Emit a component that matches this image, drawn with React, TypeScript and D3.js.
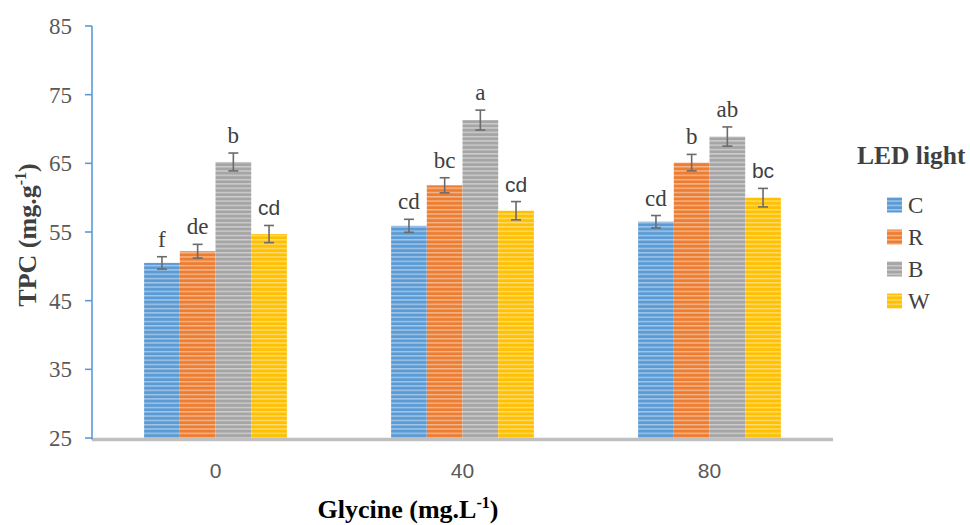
import React from "react";
import * as d3 from "d3";

const categories = ["0", "40", "80"];
const seriesNames = ["C", "R", "B", "W"];
const seriesColors = ["#5b9bd5", "#ed7d31", "#a5a5a5", "#ffc000"];
const valuesC = [50.5, 55.9, 56.5];
const valuesR = [52.2, 61.8, 65.1];
const valuesB = [65.2, 71.3, 68.9];
const valuesW = [54.7, 58.1, 60.0];
const errC = [0.9, 0.95, 0.9];
const errR = [1.0, 1.1, 1.2];
const errB = [1.3, 1.45, 1.4];
const errW = [1.25, 1.33, 1.35];
const lettersC = ["f", "cd", "cd"];
const lettersR = ["de", "bc", "b"];
const lettersB = ["b", "a", "ab"];
const lettersW = ["cd", "cd", "bc"];
const yTicks = [25, 35, 45, 55, 65, 75, 85];

const W = 970;
const H = 525;
const serif = "'Liberation Serif', 'Times New Roman', serif";
const sans = "'Liberation Sans', Arial, sans-serif";

function lighten(c: string, k: number) {
  const col = d3.color(c)!.rgb();
  return d3.rgb(
    col.r + (255 - col.r) * k,
    col.g + (255 - col.g) * k,
    col.b + (255 - col.b) * k
  ).toString();
}

export default function App() {
  const values = [valuesC, valuesR, valuesB, valuesW];
  const errs = [errC, errR, errB, errW];
  const letters = [lettersC, lettersR, lettersB, lettersW];

  const x0 = d3.scaleBand<string>().domain(categories).range([92, 833]).paddingInner(0).paddingOuter(0);
  const x1 = d3.scaleBand<string>().domain(seriesNames).range([0, x0.bandwidth()]).paddingOuter(1.46).paddingInner(0);
  const y = d3.scaleLinear().domain([25, 85]).range([438, 26]);

  return (
    <svg width={W} height={H} style={{ position: "absolute", left: 0, top: 0, background: "#fff" }}>
      <defs>
        {seriesNames.map((s, i) => (
          <pattern key={s} id={"pat" + s} patternUnits="userSpaceOnUse" width={8} height={4.3}>
            <rect x={0} y={0} width={8} height={4.3} fill={seriesColors[i]} />
            <rect x={0} y={2.6} width={8} height={1.4} fill={lighten(seriesColors[i], 0.45)} />
          </pattern>
        ))}
      </defs>

      {/* bars */}
      {categories.map((cat, ci) => (
        <g key={cat} transform={`translate(${x0(cat)},0)`}>
          {seriesNames.map((s, si) => {
            const v = values[si][ci];
            const e = errs[si][ci];
            const bx = x1(s)!;
            const bw = x1.bandwidth();
            const cx = bx + bw / 2;
            return (
              <g key={s}>
                <rect x={bx} y={y(v)} width={bw} height={y(25) - y(v)} fill={`url(#pat${s})`} />
                <line x1={cx} x2={cx} y1={y(v + e)} y2={y(v - e)} stroke="#6b6b6b" strokeWidth={1.6} />
                <line x1={cx - 5} x2={cx + 5} y1={y(v + e)} y2={y(v + e)} stroke="#6b6b6b" strokeWidth={1.6} />
                <line x1={cx - 5} x2={cx + 5} y1={y(v - e)} y2={y(v - e)} stroke="#6b6b6b" strokeWidth={1.6} />
                <text
                  x={cx}
                  y={y(v + e) - 10}
                  textAnchor="middle"
                  fontFamily={si === 3 ? sans : serif}
                  fontSize={si === 3 ? 21 : 23}
                  fill="#404040"
                >
                  {letters[si][ci]}
                </text>
              </g>
            );
          })}
        </g>
      ))}

      {/* x baseline */}
      <line x1={92} x2={833} y1={439.5} y2={439.5} stroke="#bfbfbf" strokeWidth={3.5} />

      {/* y axis */}
      <line x1={92} x2={92} y1={y(85)} y2={y(25) + 1.5} stroke="#5b9bd5" strokeWidth={1.6} />
      {yTicks.map((t) => (
        <g key={t}>
          <line x1={85} x2={92} y1={y(t)} y2={y(t)} stroke="#5b9bd5" strokeWidth={1.6} />
          <text x={72} y={y(t)} dy="0.35em" textAnchor="end" fontFamily={serif} fontSize={23} fill="#595959">
            {t}
          </text>
        </g>
      ))}

      {/* x tick labels */}
      {categories.map((cat) => (
        <text
          key={cat}
          x={x0(cat)! + x0.bandwidth() / 2}
          y={478}
          textAnchor="middle"
          fontFamily={sans}
          fontSize={21}
          fill="#595959"
        >
          {cat}
        </text>
      ))}

      {/* y title */}
      <text
        transform={`translate(36,235) rotate(-90)`}
        textAnchor="middle"
        fontFamily={serif}
        fontSize={26}
        fontWeight="bold"
        fill="#404040"
      >
        TPC (mg.g
        <tspan dy={-10} fontSize={16}>-1</tspan>
        <tspan dy={10}>)</tspan>
      </text>

      {/* x title */}
      <text x={408} y={518} textAnchor="middle" fontFamily={serif} fontSize={26} fontWeight="bold" fill="#000">
        Glycine (mg.L
        <tspan dy={-10} fontSize={16}>-1</tspan>
        <tspan dy={10}>)</tspan>
      </text>

      {/* legend */}
      <text x={857} y={164} fontFamily={serif} fontSize={25.5} fontWeight="bold" fill="#404040">
        LED light
      </text>
      {seriesNames.map((s, i) => {
        const ly = 205 + i * 32;
        return (
          <g key={s}>
            <rect x={887} y={ly - 7.5} width={15} height={15} fill={`url(#pat${s})`} />
            <text x={908} y={ly} dy="0.35em" fontFamily={serif} fontSize={23} fill="#404040">
              {s}
            </text>
          </g>
        );
      })}
    </svg>
  );
}
